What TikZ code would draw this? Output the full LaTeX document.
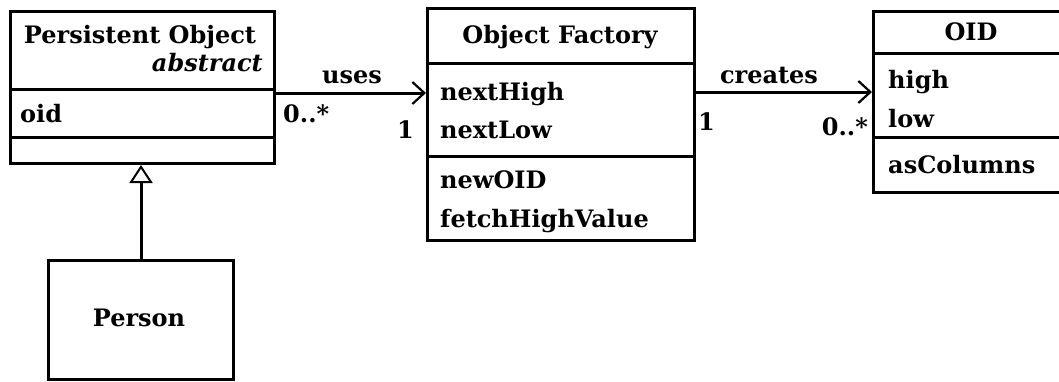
\documentclass[tikz,border=0pt]{standalone}
\usepackage{fontspec}
\setmainfont{DejaVu Serif}
\usetikzlibrary{arrows.meta}
\tikzset{
  cls/.style={draw, line width=3pt, inner sep=0pt, anchor=north west},
  lbl/.style={inner sep=0pt, font=\fontsize{24}{28}\selectfont\bfseries},
  assoc/.style={line width=3pt, -{Straight Barb[length=12pt,width=22pt,line width=2.2pt]}},
  inherit/.style={line width=3pt, -{Triangle[open,length=18pt,width=23pt,line width=2pt]}}
}
\begin{document}
\begin{tikzpicture}[x=1pt,y=-1pt]
	\clip (0,0) rectangle (1059,381);
	% classes
	\node[cls, minimum width=264pt, minimum height=152pt] (po) at (9,10) {};
	\draw[line width=3pt] (po.west |- 0,89) -- (po.east |- 0,89);
	\draw[line width=3pt] (po.west |- 0,137) -- (po.east |- 0,137);
	\node[lbl, anchor=base] (poname) at (140,43) {Persistent Object};
	\node[lbl, anchor=base east] (poabs) at (263,71) {\itshape abstract};
	\node[lbl, anchor=base west] (poid) at (20,122) {oid};

	\node[cls, minimum width=267pt, minimum height=232pt] (of) at (426,7) {};
	\draw[line width=3pt] (of.west |- 0,63) -- (of.east |- 0,63);
	\draw[line width=3pt] (of.west |- 0,156) -- (of.east |- 0,156);
	\node[lbl, anchor=base] (ofname) at (560,43) {Object Factory};
	\node[lbl, anchor=base west] (ofhigh) at (440,100) {nextHigh};
	\node[lbl, anchor=base west] (oflow) at (440,138) {nextLow};
	\node[lbl, anchor=base west] (ofnew) at (440,188) {newOID};
	\node[lbl, anchor=base west] (offetch) at (440,227) {fetchHighValue};

	\node[cls, minimum width=200pt, minimum height=181pt] (oid) at (872,10) {};
	\draw[line width=3pt] (oid.west |- 0,53) -- (oid.east |- 0,53);
	\draw[line width=3pt] (oid.west |- 0,137) -- (oid.east |- 0,137);
	\node[lbl, anchor=base] (oidname) at (971,40) {OID};
	\node[lbl, anchor=base west] (oidhigh) at (888,88) {high};
	\node[lbl, anchor=base west] (oidlow) at (888,127) {low};
	\node[lbl, anchor=base west] (oidcols) at (888,173) {asColumns};

	\node[cls, minimum width=185pt, minimum height=119pt] (person) at (47,259) {};
	\node[lbl, anchor=base] (personname) at (139,326) {Person};

	% associations
	\coordinate (usesA) at (273,93);
	\draw[assoc] (usesA) -- (usesA -| of.west);
	\node[lbl, anchor=base] (uses) at (352,83) {uses};
	\node[lbl, anchor=base west] (usesmany) at (283,122) {0..*};
	\node[lbl, anchor=base east] (usesone) at (414,138) {1};

	\coordinate (createsA) at (693,92);
	\draw[assoc] (createsA) -- (createsA -| oid.west);
	\node[lbl, anchor=base] (creates) at (769,83) {creates};
	\node[lbl, anchor=base west] (createsone) at (698,130) {1};
	\node[lbl, anchor=base east] (createsmany) at (868,135) {0..*};

	\draw[inherit] (person.north) -- (person.north |- po.south);
\end{tikzpicture}
\end{document}
